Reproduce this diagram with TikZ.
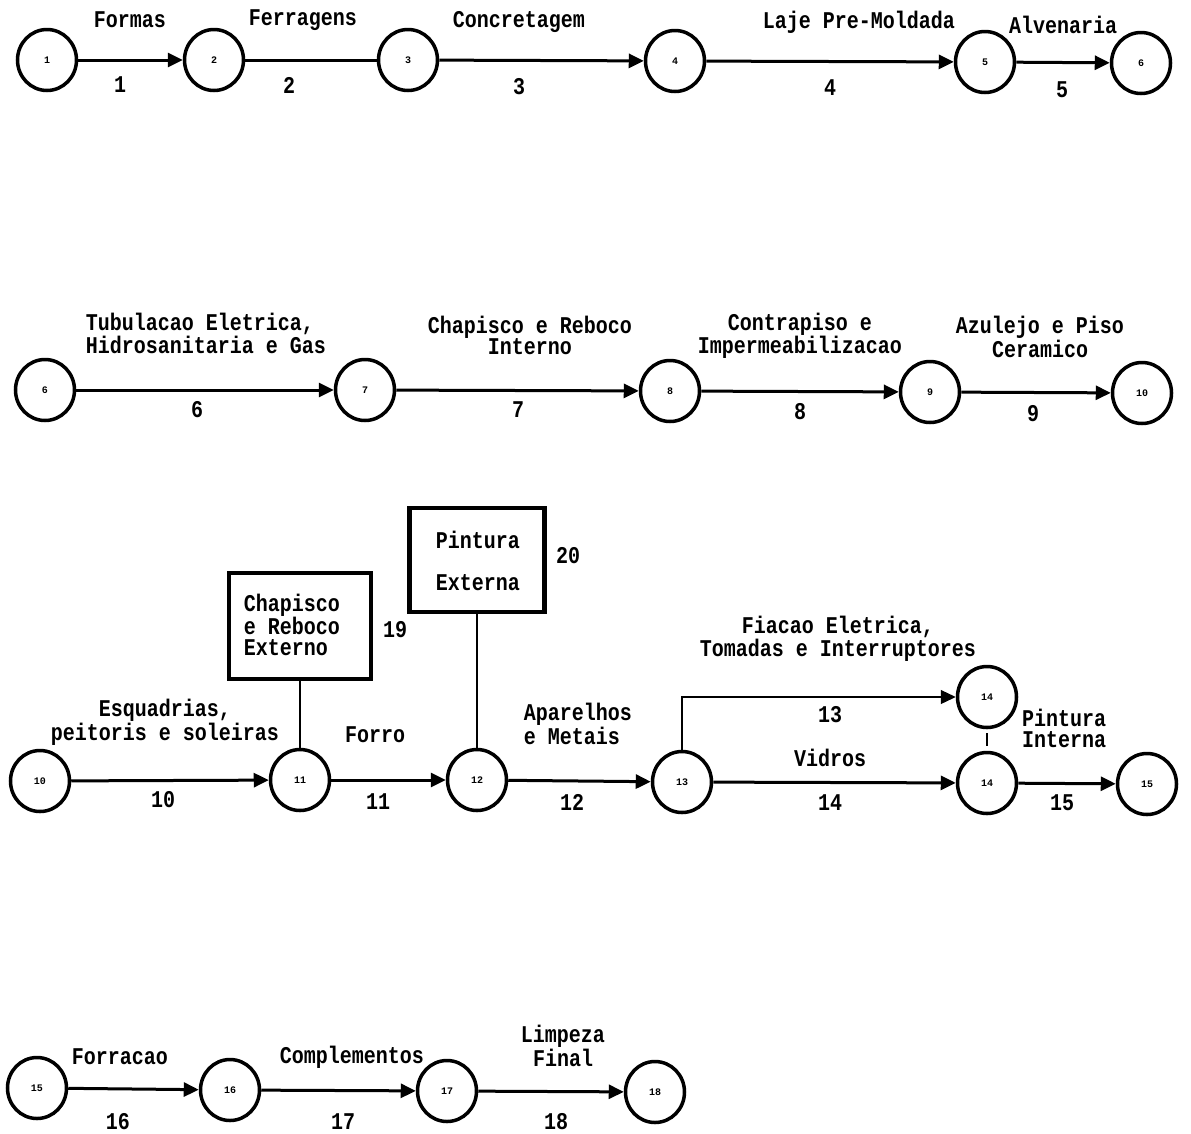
\documentclass[tikz,border=0pt]{standalone}
\usepackage{fontspec}
\setmonofont{Liberation Mono}
\usetikzlibrary{arrows.meta,shapes.geometric}
\tikzset{
  ev/.style={ellipse,draw,line width=3.5pt,minimum width=59pt,minimum height=61pt,inner sep=0pt,font=\ttfamily\bfseries\fontsize{10}{10}\selectfont},
  act/.style={line width=3pt},
  arr/.style={act,-{Triangle[length=15pt,width=14pt]}},
  lbl/.style={inner sep=0pt,yscale=1.2,font=\ttfamily\bfseries\fontsize{20}{17.5}\selectfont},
  box/.style={draw,line width=4.5pt,inner sep=0pt},
  thin/.style={line width=1.2pt}
}
\begin{document}
\begin{tikzpicture}[x=1pt,y=-1pt]
\useasboundingbox[fill=white] (0,0) rectangle (1191,1133);
% Row 1
\node[ev] (n1) at (47,60) {1};
\node[ev] (n2) at (214,60) {2};
\node[ev] (n3) at (408,60) {3};
\node[ev] (n4) at (675,61) {4};
\node[ev] (n5) at (985,62) {5};
\node[ev] (n6a) at (1141,63) {6};
\draw[arr] (n1) -- (n2);
\draw[act] (n2) -- (n3);
\draw[arr] (n3) -- (n4);
\draw[arr] (n4) -- (n5);
\draw[arr] (n5) -- (n6a);
\node[lbl] (t1) at (130,20) {Formas};
\node[lbl] (e1) at (120,85) {1};
\node[lbl] (t2) at (303,20) {Ferragens};
\node[lbl] (e2) at (289,85) {2};
\node[lbl] (t3) at (519,22) {Concretagem};
\node[lbl] (e3) at (519,87) {3};
\node[lbl] (t4) at (859,22) {Laje Pre-Moldada};
\node[lbl] (e4) at (830,88) {4};
\node[lbl] (t5) at (1063,25) {Alvenaria};
\node[lbl] (e5) at (1062,90) {5};
% Row 2
\node[ev] (n6) at (45,390) {6};
\node[ev] (n7) at (365,390) {7};
\node[ev] (n8) at (670,391) {8};
\node[ev] (n9) at (930,392) {9};
\node[ev] (n10a) at (1142,393) {10};
\draw[arr] (n6) -- (n7);
\draw[arr] (n7) -- (n8);
\draw[arr] (n8) -- (n9);
\draw[arr] (n9) -- (n10a);
\node[lbl,align=left] (t6) at (206,333) {Tubulacao Eletrica,\\Hidrosanitaria e Gas};
\node[lbl] (e6) at (197,410) {6};
\node[lbl,align=center] (t7) at (530,335) {Chapisco e Reboco\\Interno};
\node[lbl] (e7) at (518,410) {7};
\node[lbl,align=center] (t8) at (800,336) {Contrapiso e\\Impermeabilizacao};
\node[lbl] (e8) at (800,412) {8};
\node[lbl,align=center] (t9) at (1040,337) {Azulejo e Piso\\Ceramico};
\node[lbl] (e9) at (1033,414) {9};
% Row 3
\node[ev] (n10) at (40,781) {10};
\node[ev] (n11) at (300,780) {11};
\node[ev] (n12) at (477,780) {12};
\node[ev] (n13) at (682,782) {13};
\node[ev] (n14) at (987,783) {14};
\node[ev] (n15a) at (1147,784) {15};
\node[ev] (n14u) at (987,697) {14};
\draw[arr] (n10) -- (n11);
\draw[arr] (n11) -- (n12);
\draw[arr] (n12) -- (n13);
\draw[arr] (n13) -- (n14);
\draw[arr] (n14) -- (n15a);
\draw[thin,-{Triangle[length=15pt,width=14pt]}] (n13.north) |- (n14u.west);
\draw[thin] ([yshift=-4pt]n14u.south) -- ([yshift=5pt]n14.north);
\node[box,minimum width=142pt,minimum height=106pt] (b19) at (300,626) {};
\node[lbl,align=left] (tb19) at (292,625) {Chapisco\\e Reboco\\Externo};
\node[lbl] (e19) at (395,630) {19};
\node[box,minimum width=135pt,minimum height=104pt] (b20) at (477,560) {};
\node[lbl] (tb20a) at (478,540) {Pintura};
\node[lbl] (tb20b) at (478,583) {Externa};
\node[lbl] (e20) at (568,556) {20};
\draw[thin] (b19.south) -- (n11.north);
\draw[thin] (b20.south) -- (n12.north);
\node[lbl,align=center] (t10) at (165,722) {Esquadrias,\\peitoris e soleiras};
\node[lbl] (e10) at (163,800) {10};
\node[lbl] (t11) at (375,735) {Forro};
\node[lbl] (e11) at (378,802) {11};
\node[lbl,align=left] (t12) at (578,724) {Aparelhos\\e Metais};
\node[lbl] (e12) at (572,802) {12};
\node[lbl,align=center] (t13) at (838,639) {Fiacao Eletrica,\\Tomadas e Interruptores};
\node[lbl] (e13) at (830,715) {13};
\node[lbl] (t14) at (830,758) {Vidros};
\node[lbl] (e14) at (830,803) {14};
\node[lbl,align=center] (t15) at (1064,728) {Pintura\\Interna};
\node[lbl] (e15) at (1062,803) {15};
% Row 4
\node[ev] (n15) at (37,1088) {15};
\node[ev] (n16) at (230,1090) {16};
\node[ev] (n17) at (447,1091) {17};
\node[ev] (n18) at (655,1092) {18};
\draw[arr] (n15) -- (n16);
\draw[arr] (n16) -- (n17);
\draw[arr] (n17) -- (n18);
\node[lbl] (t16) at (120,1057) {Forracao};
\node[lbl] (e16) at (118,1122) {16};
\node[lbl] (t17) at (352,1057) {Complementos};
\node[lbl] (e17) at (343,1122) {17};
\node[lbl,align=center] (t18) at (563,1046) {Limpeza\\Final};
\node[lbl] (e18) at (556,1122) {18};
\end{tikzpicture}
\end{document}
